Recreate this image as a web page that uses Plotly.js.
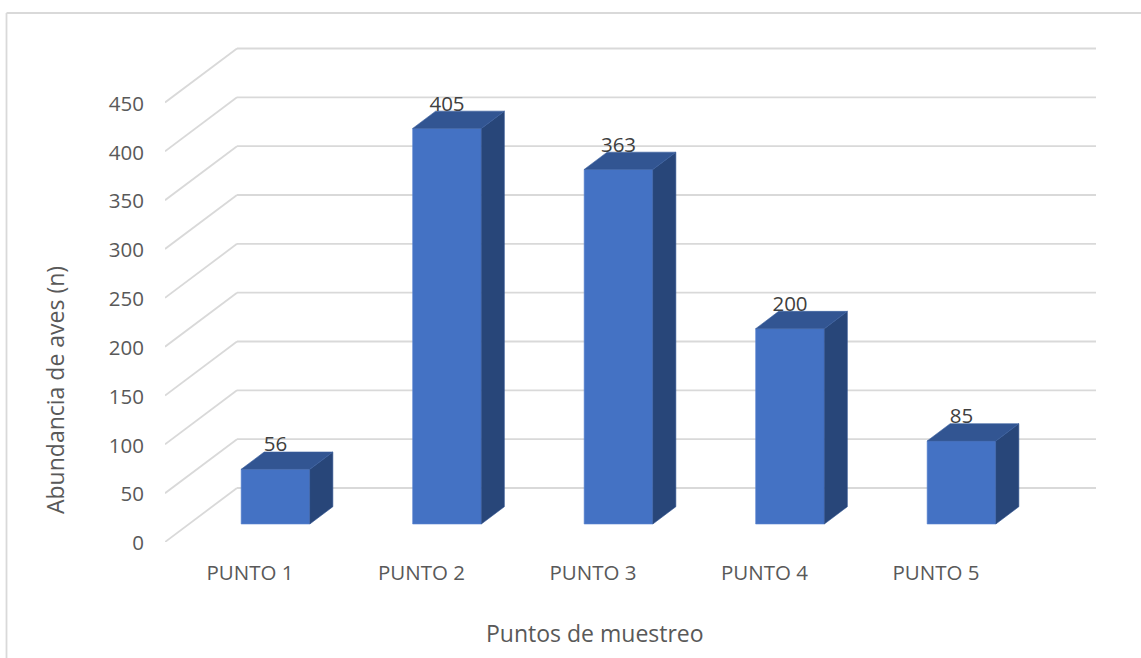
<!DOCTYPE html>
<html><head><meta charset="utf-8">
<script src="https://cdn.plot.ly/plotly-3.0.1.min.js"></script>
<style>html,body{margin:0;padding:0;background:#fff}#c{width:1141px;height:658px}</style>
</head><body><div id="c"></div>
<script>
const categories = ["PUNTO 1","PUNTO 2","PUNTO 3","PUNTO 4","PUNTO 5"];
const values = [56,405,363,200,85];
const yTicks = [0,50,100,150,200,250,300,350,400,450];
const xTitle = 'Puntos de muestreo';
const yTitle = 'Abundancia de aves (n)';

const W=1141,H=658, L=165,R=1096,T=30,B=542;
const pxPerUnit=0.9767, pxPerCat=171.5, cat0=275.5;
const xa=p=>(p-cat0)/pxPerCat;            // pixel offset -> category units
const dxWall=72/pxPerCat, dyWall=54/pxPerUnit;
const dxBar=23/pxPerCat, dyBar=17.3/pxPerUnit;
const barBase=18/pxPerUnit, barW=68.7/pxPerCat;
const labelGap=23/pxPerUnit, tickShift=25.5/pxPerCat;
const xs=categories.map((_,i)=>i);

const shapes=[];
const grid={color:'#d9d9d9',width:1.8};
const x0=xa(L),x1=xa(R);
yTicks.forEach(v=>{
  shapes.push({type:'line',layer:'below',xref:'x',yref:'y',x0:x0,x1:x0+dxWall,y0:v,y1:v+dyWall,line:grid});
  shapes.push({type:'line',layer:'below',xref:'x',yref:'y',x0:x0+dxWall,x1:x1,y0:v+dyWall,y1:v+dyWall,line:grid});
});
// chart frame: left and top edges only, running off the page
const fx=p=>(p-L)/(R-L), fy=p=>(B-p)/(B-T);
const frame={color:'#d9d9d9',width:1.8};
shapes.push({type:'line',xref:'paper',yref:'paper',x0:fx(6.5),x1:fx(6.5),y0:fy(13),y1:fy(658),line:frame});
shapes.push({type:'line',xref:'paper',yref:'paper',x0:fx(6.5),x1:fx(1141),y0:fy(13),y1:fy(13),line:frame});

const sideFace={x:[],y:[]}, topFace={x:[],y:[]};
values.forEach((v,i)=>{
  const l=i-barW/2, r=i+barW/2, b=barBase, t=barBase+v;
  sideFace.x.push(r,r+dxBar,r+dxBar,r,r,null);
  sideFace.y.push(b,b+dyBar,t+dyBar,t,b,null);
  topFace.x.push(l,l+dxBar,r+dxBar,r,l,null);
  topFace.y.push(t,t+dyBar,t+dyBar,t,t,null);
});

const traces=[
 {type:'bar',x:xs,y:values,base:values.map(()=>barBase),width:barW,
  marker:{color:'#4472c4',line:{color:'#5b85d0',width:0.6}},hoverinfo:'skip'},
 {type:'scatter',mode:'lines',x:sideFace.x,y:sideFace.y,fill:'toself',fillcolor:'#284679',
  line:{color:'#2f5290',width:0.6},hoverinfo:'skip'},
 {type:'scatter',mode:'lines',x:topFace.x,y:topFace.y,fill:'toself',fillcolor:'#325592',
  line:{color:'#3a5f9f',width:0.6},hoverinfo:'skip'},
 {type:'scatter',mode:'text',x:xs,y:values.map(v=>v+barBase+labelGap),text:values.map(String),
  textposition:'middle center',textfont:{family:'Open Sans',size:20.5,color:'#404040'},hoverinfo:'skip'}
];

const titleFont={family:'Open Sans',size:23,color:'#595959'};
const layout={
 width:W,height:H,paper_bgcolor:'#fff',plot_bgcolor:'rgba(0,0,0,0)',showlegend:false,
 margin:{l:L,r:W-R,t:T,b:H-B,pad:0},barmode:'overlay',
 xaxis:{type:'linear',range:[x0,x1],tickmode:'array',tickvals:xs.map(i=>i-tickShift),ticktext:categories,
   showgrid:false,zeroline:false,showline:false,ticks:'outside',ticklen:12,tickcolor:'rgba(0,0,0,0)',
   tickfont:{family:'Open Sans',size:20.5,color:'#595959'}},
 yaxis:{type:'linear',range:[0,(B-T)/pxPerUnit],tickmode:'array',tickvals:yTicks,ticklabelshift:1,
   showgrid:false,zeroline:false,showline:false,ticks:'outside',ticklen:16,tickcolor:'rgba(0,0,0,0)',
   tickfont:{family:'Open Sans',size:20.5,color:'#595959'}},
 annotations:[
  {text:xTitle,xref:'paper',yref:'paper',x:fx(595),y:fy(633),xanchor:'center',yanchor:'middle',showarrow:false,font:titleFont},
  {text:yTitle,xref:'paper',yref:'paper',x:fx(55),y:fy(390),xanchor:'center',yanchor:'middle',showarrow:false,textangle:-90,font:titleFont}
 ],
 shapes:shapes
};
Plotly.newPlot('c',traces,layout,{displayModeBar:false,staticPlot:true});
</script></body></html>
